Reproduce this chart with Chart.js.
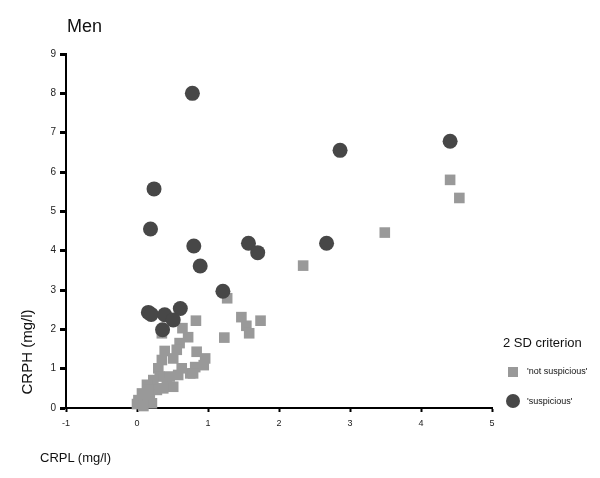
<!DOCTYPE html>
<html>
<head>
<meta charset="utf-8">
<script src="https://cdn.jsdelivr.net/npm/chart.js@4"></script>
<style>
  body { margin: 0; background: #fff; }
  #wrap { position: relative; width: 600px; height: 478px; font-family: "Liberation Sans", Arial, Helvetica, sans-serif; color: #111; }
  #grafico { position: absolute; left: 0; top: 0; }
  .txt { position: absolute; white-space: nowrap; }
  #titulo { left: 67px; top: 16px; font-size: 18px; }
  #xtitle { left: 40px; top: 450px; font-size: 13px; }
  #legTitle { left: 503px; top: 335px; font-size: 13px; }
  .mark { position: absolute; }
  #mSq { left: 508px; top: 367px; width: 10px; height: 10px; background: #999; }
  #mCi { left: 506px; top: 394px; width: 14px; height: 14px; border-radius: 50%; background: #474747; }
  .legTxt { font-size: 9px; left: 527px; }
</style>
</head>
<body>
<div id="wrap">
  <canvas id="grafico" width="600" height="478"></canvas>
  <div class="txt" id="titulo">Men</div>
  <div class="txt" id="xtitle">CRPL (mg/l)</div>
  <div class="txt" id="legTitle">2 SD criterion</div>
  <div class="mark" id="mSq"></div>
  <div class="txt legTxt" style="top:366px">'not suspicious'</div>
  <div class="mark" id="mCi"></div>
  <div class="txt legTxt" style="top:396px">'suspicious'</div>
</div>
<script>
// 'suspicious' (circulos oscuros)
const sospX = [0.78, 2.86, 4.41, 0.24, 0.19, 0.80, 0.89, 1.57, 1.70, 2.67, 1.21, 0.16, 0.20, 0.39, 0.61, 0.51, 0.36];
const sospY = [8.00, 6.55, 6.78, 5.57, 4.55, 4.12, 3.61, 4.19, 3.95, 4.19, 2.97, 2.43, 2.38, 2.37, 2.53, 2.24, 1.99];

// 'not suspicious' (cuadros grises)
const normX = [4.41, 4.54, 3.49, 2.34, 1.27, 1.47, 1.74, 1.54, 1.58, 1.23, 0.83, 0.64, 0.35,
  0.72, 0.60, 0.56, 0.39, 0.35, 0.51, 0.84, 0.96, 0.94, 0.82, 0.75, 0.63, 0.58, 0.30, 0.32,
  0.46, 0.42, 0.51, 0.23, 0.14, 0.28, 0.37, 0.07, 0.18, 0.02, 0.11, 0.00, 0.21, 0.09, 0.16, 0.79];
const normY = [5.80, 5.34, 4.46, 3.62, 2.79, 2.31, 2.22, 2.09, 1.90, 1.79, 2.22, 2.03, 1.90,
  1.80, 1.65, 1.48, 1.45, 1.22, 1.26, 1.43, 1.26, 1.09, 1.04, 0.88, 1.01, 0.84, 1.01, 0.80,
  0.80, 0.63, 0.54, 0.71, 0.59, 0.46, 0.50, 0.37, 0.33, 0.20, 0.16, 0.10, 0.12, 0.05, 0.46, 0.88];

const xTicks = [-1, 0, 1, 2, 3, 4, 5];
const yTicks = [0, 1, 2, 3, 4, 5, 6, 7, 8, 9];

function puntos(xs, ys) {
  return xs.map((x, i) => ({ x: x, y: ys[i] }));
}

// titulo del eje y, girado y corrido hacia abajo como en el original
const tituloY = {
  id: "tituloY",
  afterDraw(chart) {
    const c = chart.ctx;
    c.save();
    c.translate(28, 352);
    c.rotate(-Math.PI / 2);
    c.font = "15px 'Liberation Sans', Arial, sans-serif";
    c.fillStyle = "#111";
    c.textAlign = "center";
    c.textBaseline = "middle";
    c.fillText("CRPH (mg/l)", 0, 0);
    c.restore();
  }
};

const ctx = document.getElementById("grafico").getContext("2d");
const chart = new Chart(ctx, {
  type: "scatter",
  data: {
    datasets: [
      {
        label: "'suspicious'",
        data: puntos(sospX, sospY),
        pointStyle: "circle",
        pointRadius: 7.5,
        backgroundColor: "#474747",
        borderColor: "#474747",
        borderWidth: 0,
        clip: false
      },
      {
        label: "'not suspicious'",
        data: puntos(normX, normY),
        pointStyle: "rect",
        pointRadius: 7.5,
        backgroundColor: "#999999",
        borderColor: "#999999",
        borderWidth: 0,
        clip: false
      }
    ]
  },
  options: {
    responsive: false,
    animation: false,
    devicePixelRatio: 1,
    layout: { padding: { top: 54, right: 108, left: 0, bottom: 0 } },
    plugins: {
      legend: { display: false },
      tooltip: { enabled: false }
    },
    scales: {
      x: {
        type: "linear",
        position: "bottom",
        min: xTicks[0],
        max: xTicks[xTicks.length - 1],
        afterBuildTicks: s => { s.ticks = xTicks.map(v => ({ value: v })); },
        afterFit: s => { s.height = 70; },
        ticks: { color: "#222", font: { size: 9, family: "Liberation Sans" }, padding: 6 },
        grid: { drawOnChartArea: false, tickLength: 4, tickWidth: 2, tickColor: "#000" },
        border: { color: "#000", width: 2 }
      },
      y: {
        min: yTicks[0],
        max: yTicks[yTicks.length - 1],
        afterBuildTicks: s => { s.ticks = yTicks.map(v => ({ value: v })); },
        afterFit: s => { s.width = 66; },
        ticks: { color: "#222", font: { size: 10, family: "Liberation Sans" }, padding: 4 },
        grid: { drawOnChartArea: false, tickLength: 6, tickWidth: 3, tickColor: "#000" },
        border: { color: "#000", width: 2 }
      }
    }
  },
  plugins: [tituloY]
});
</script>
</body>
</html>
